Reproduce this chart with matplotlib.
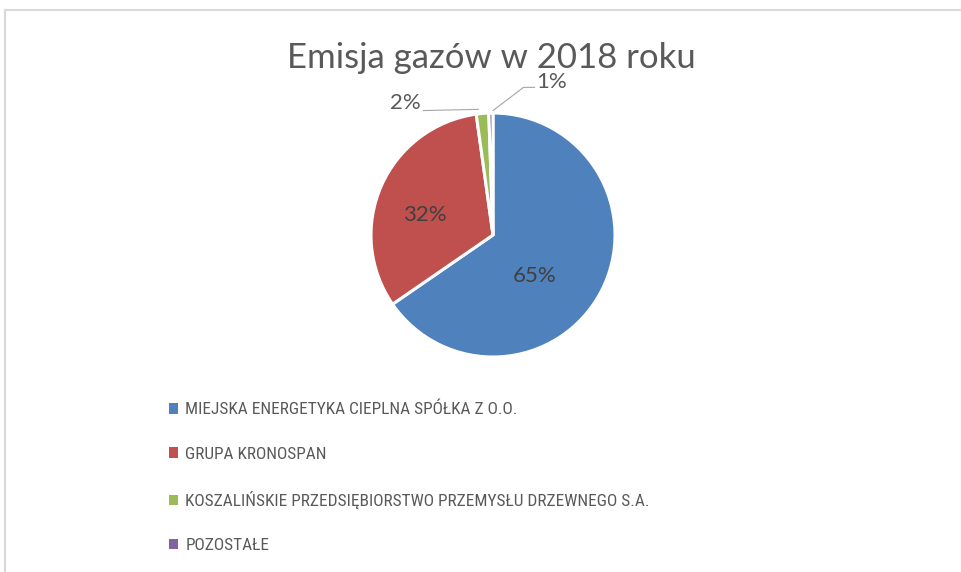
import matplotlib.pyplot as plt
from matplotlib.patches import Rectangle

# -------------------------------------------------------------------
# Emisja gazów w 2018 roku - udział firm
# -------------------------------------------------------------------
names = ['MIEJSKA ENERGETYKA CIEPLNA SPÓŁKA Z O.O.',
         'GRUPA KRONOSPAN',
         'KOSZALIŃSKIE PRZEDSIĘBIORSTWO PRZEMYSŁU DRZEWNEGO S.A.',
         'POZOSTAŁE']
shares = [65.4, 32.4, 1.65, 0.55]
colors = ['#4F81BD', '#C0504D', '#9BBB59', '#8064A2']

plt.rcParams['font.family'] = ['Lato', 'DejaVu Sans']
txt_color = '#595959'

W, H = 961, 572
fig = plt.figure(figsize=(W / 100, H / 100), dpi=100)

# ramka wykresu (jak w Excelu)
fig.add_artist(Rectangle((5 / W, -0.1), 1.2, 1 - 10 / H + 0.1, transform=fig.transFigure,
                         fill=False, edgecolor='#D9D9D9', linewidth=1.5))

cx, cy, r = 493, 235, 122
ax = fig.add_axes([(cx - r) / W, (H - cy - r) / H, 2 * r / W, 2 * r / H])
wedges, _ = ax.pie(shares, colors=colors, startangle=90, counterclock=False,
                   wedgeprops=dict(edgecolor='white', linewidth=2.2))
ax.set_xlim(-1, 1)
ax.set_ylim(-1, 1)
ax.set_aspect('equal')

pct = [f'{round(v)}%' if v >= 1 else '1%' for v in shares]
fs = 16
ax.text(0.34, -0.34, pct[0], ha='center', va='center', fontsize=fs, color='#404040')
ax.text(-0.56, 0.16, pct[1], ha='center', va='center', fontsize=fs, color='#404040')
# etykiety zewnętrzne z liniami odniesienia
ax.text(-0.72, 1.08, pct[2], ha='center', va='center', fontsize=fs, color=txt_color)
ax.plot([-0.57, -0.12], [1.02, 1.03], color='#A6A6A6', lw=0.8, clip_on=False)
ax.text(0.48, 1.25, pct[3], ha='center', va='center', fontsize=fs, color=txt_color)
ax.plot([0.0, 0.25, 0.34], [1.02, 1.21, 1.21], color='#A6A6A6', lw=0.8, clip_on=False)

fig.text(491 / W, 1 - 58 / H, 'Emisja gazów w 2018 roku', ha='center', va='center',
         fontsize=25, color=txt_color)

handles = [Rectangle((0, 0), 1, 1, facecolor=c) for c in colors]
leg = fig.legend(handles, names, loc='upper left', bbox_to_anchor=(169 / W, 1 - 402 / H),
                 frameon=False, handlelength=0.55, handleheight=0.55, handletextpad=0.4,
                 labelspacing=1.7, borderpad=0, borderaxespad=0,
                 prop=dict(family=['Roboto Condensed', 'Liberation Sans Narrow', 'Lato'],
                           size=12.4))
for t in leg.get_texts():
    t.set_color(txt_color)

fig.savefig('out.png', dpi=100)
